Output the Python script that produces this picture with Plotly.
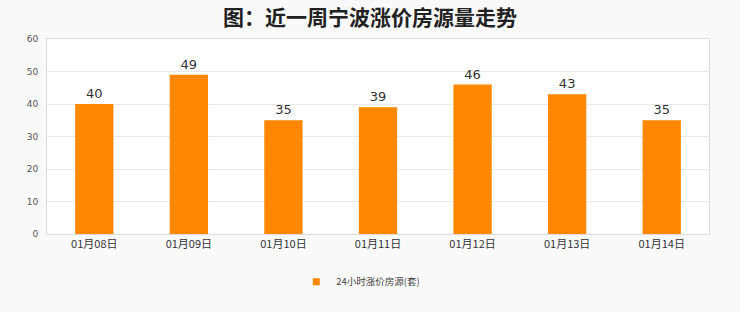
import plotly.graph_objects as go

categories = ["01月08日", "01月09日", "01月10日", "01月11日", "01月12日", "01月13日", "01月14日"]
values = [40, 49, 35, 39, 46, 43, 35]
series_name = "24小时涨价房源(套)"
title_text = "图：近一周宁波涨价房源量走势"
bar_color = "#ff8800"

fig = go.Figure()
fig.add_trace(go.Bar(
    x=categories, y=values, name=series_name,
    marker=dict(color=bar_color, line=dict(width=0)),
    text=values, textposition="outside", cliponaxis=False,
    textfont=dict(size=13, color="#333333", family="DejaVu Sans"),
    showlegend=False,
))
# legend entry with small square marker
fig.add_trace(go.Scatter(
    x=[None], y=[None], mode="markers", name=series_name,
    marker=dict(symbol="square", size=7, color=bar_color), showlegend=True,
))

fig.update_layout(
    width=740, height=312,
    paper_bgcolor="#f9f9f9", plot_bgcolor="#ffffff",
    margin=dict(l=47, r=31, t=39, b=78),
    title=dict(text="<b>" + title_text + "</b>", x=0.5, xanchor="center",
               yref="container", y=0.945, yanchor="middle",
               font=dict(size=21, color="#222222", family="Noto Sans CJK SC")),
    bargap=0.595,
    font=dict(family="Noto Sans CJK SC"),
    xaxis=dict(showgrid=False, showline=True, linecolor="#dddddd", linewidth=1, mirror=True,
               ticks="", tickfont=dict(size=11, color="#333333", family="Noto Sans CJK SC")),
    yaxis=dict(range=[0, 60], dtick=10, showgrid=True, gridcolor="#e8e8e8", gridwidth=1,
               showline=True, linecolor="#dddddd", mirror=True, zeroline=False,
               ticks="", tickfont=dict(size=9, color="#555555", family="DejaVu Sans"),
               ticklabelstandoff=6),
    legend=dict(orientation="h", x=0.474, xanchor="center", y=-0.245, yanchor="middle",
                font=dict(size=9.5, color="#444444", family="Noto Sans CJK SC"),
                bgcolor="rgba(0,0,0,0)", itemwidth=30),
)

fig.write_html("out.html")
